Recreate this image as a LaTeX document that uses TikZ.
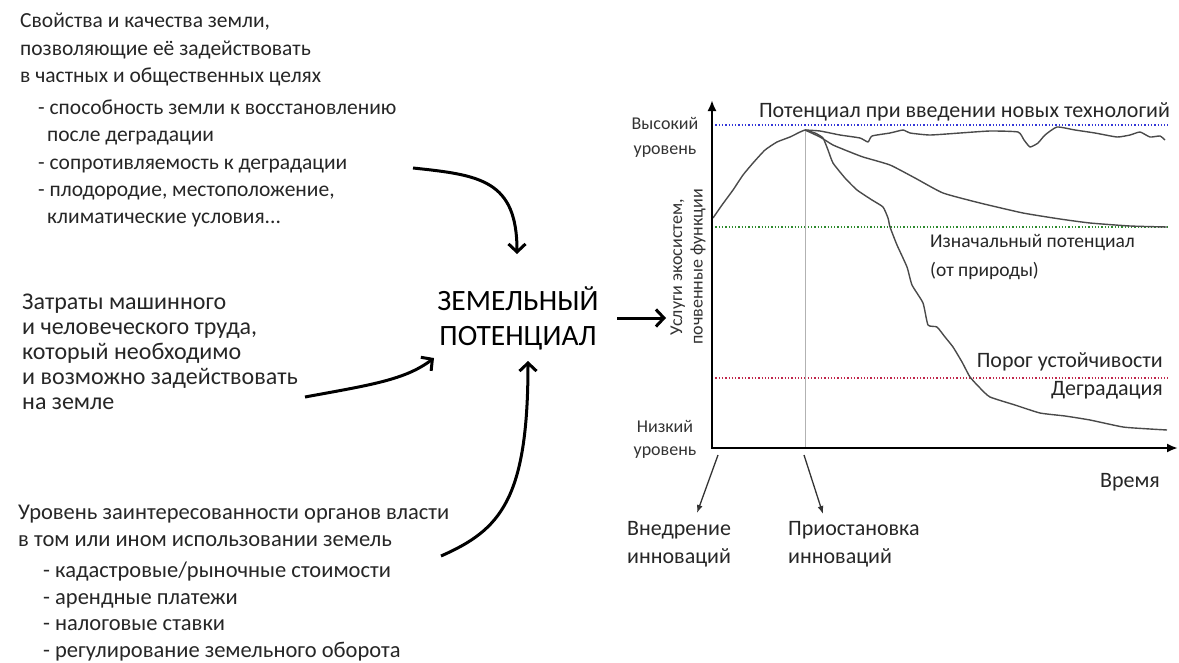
\documentclass[tikz,border=0pt]{standalone}
\usepackage{fontspec}
\setmainfont{Carlito}
\usepackage{xcolor}
\definecolor{potblue}{HTML}{3438D8}
\definecolor{potgreen}{HTML}{2E8A2E}
\definecolor{potred}{HTML}{C0284C}
\definecolor{curvegray}{HTML}{4A4A4A}
\usetikzlibrary{arrows.meta}
\usetikzlibrary{positioning}

\begin{document}
\begin{tikzpicture}[x=1pt, y=-1pt,
    txt/.style={anchor=north west, align=left, inner sep=0pt, text=black!85,
      font=\fontsize{21.5}{27.3}\selectfont},
    lbl/.style={inner sep=0pt, text=black!85, font=\fontsize{22}{28}\selectfont},
    small/.style={inner sep=0pt, align=center, text=black!80,
      font=\fontsize{18}{25}\selectfont},
    bigarrow/.style={line width=3pt, -{Straight Barb[length=8pt,width=17pt,line width=3pt]}},
    thinarrow/.style={line width=1.3pt, black!80, -{Latex[length=8pt,width=6pt]}},
    level/.style={line width=1.3pt, dotted},
    curve/.style={line width=1.4pt, curvegray, line join=round}]

\useasboundingbox (0,0) rectangle (1179,662);

% left column
\node[txt] (props) at (20,13) {Свойства и качества земли,\\
  позволяющие её задействовать\\
  в частных и общественных целях\\[5pt]
  \hspace*{18pt}- способность земли к восстановлению\\
  \hspace*{27pt}после деградации\\
  \hspace*{18pt}- сопротивляемость к деградации\\
  \hspace*{18pt}- плодородие, местоположение,\\
  \hspace*{27pt}климатические условия...};

\node[txt, font=\fontsize{24}{25}\selectfont] (labour) at (22,294) {Затраты машинного\\
  и человеческого труда,\\
  который необходимо\\
  и возможно задействовать\\
  на земле};

\node[txt, font=\fontsize{22.5}{26.5}\selectfont] (power) at (18,505)
  {Уровень заинтересованности органов власти\\
  в том или ином использовании земель\\[5pt]
  \hspace*{25pt}- кадастровые/рыночные стоимости\\
  \hspace*{25pt}- арендные платежи\\
  \hspace*{25pt}- налоговые ставки\\
  \hspace*{25pt}- регулирование земельного оборота};

% centre
\node[align=center, inner sep=0pt, font=\fontsize{29.5}{35}\selectfont] (land) at (518,318)
  {ЗЕМЕЛЬНЫЙ\\ПОТЕНЦИАЛ};

\coordinate (a1) at (413,168);
\coordinate (a2) at (305,397);
\coordinate (a3) at (441,556);
\coordinate (in1) at (517,254);
\coordinate (in2) at (434,358);
\coordinate (in3) at (528,361);
\coordinate (a4) at (617,318);
\coordinate (out) at (666,318);

\draw[bigarrow] (a1) .. controls (480,175) and (517,180) .. (in1);
\draw[bigarrow] (a2) .. controls (370,385) and (405,380) .. (in2);
\draw[bigarrow] (a3) .. controls (500,530) and (528,500) .. (in3);
\draw[bigarrow] (a4) -- (out);

% chart
\coordinate (O) at (712,448);
\coordinate (ytop) at (712,100);
\coordinate (xend) at (1178,448);
\coordinate (peak) at (805,130);

\draw[level, potblue] (712,125) -- (1168,125);
\draw[level, potgreen] (712,227) -- (1168,227);
\draw[level, potred] (712,378) -- (1168,378);
\draw[line width=1pt, black!30] (peak) -- (peak |- O);

\draw[curve] plot[smooth, tension=.3] coordinates {(713,218) (722,205) (733,190)
  (743,175) (753,163) (765,150) (777,142) (790,137) (800,132) (peak)};
\draw[curve] plot[smooth, tension=.3] coordinates {(peak) (820,131) (840,135)
  (860,138) (868,142) (872,136) (890,133) (903,130) (910,133) (930,135) (960,133)
  (990,131) (1018,132) (1024,140) (1030,147) (1038,143) (1045,135) (1057,127)
  (1075,130) (1095,133) (1117,137) (1130,135) (1140,132) (1150,137) (1160,136)
  (1165,140)};
\draw[curve] plot[smooth, tension=.3] coordinates {(peak) (820,137) (833,145)
  (850,152) (863,157) (890,165) (915,178) (943,193) (980,203) (1023,213)
  (1060,219) (1090,223) (1130,226) (1167,227)};
\draw[curve] plot[smooth, tension=.3] coordinates {(peak) (815,133) (823,138)
  (828,150) (833,163) (845,178) (857,190) (872,200) (883,207) (888,218) (890,227)
  (897,245) (907,267) (912,285) (923,303) (928,325) (937,327) (945,337) (953,347)
  (962,362) (970,377) (980,388) (990,397) (1015,405) (1040,413) (1065,416)
  (1090,420) (1123,427) (1150,429) (1167,430)};

\draw[line width=2.5pt, {Latex[length=11pt,width=9pt]}-{Latex[length=11pt,width=9pt]}]
  (ytop) -- (O) -- (xend);

\node[lbl, anchor=east] (newtech) at (1170,112) {Потенциал при введении новых технологий};
\node[lbl, anchor=west, align=left, font=\fontsize{19.5}{29}\selectfont] (natural)
  at (930,257) {Изначальный потенциал\\(от природы)};
\node[lbl, anchor=east] (threshold) at (1163,362) {Порог устойчивости};
\node[lbl, anchor=east] (degr) at (1163,390) {Деградация};
\node[lbl] (time) at (1130,482) {Время};

\node[small] (high) at (665,137) {Высокий\\уровень};
\node[small, font=\fontsize{18}{23}\selectfont] (low) at (665,439) {Низкий\\уровень};
\node[small, rotate=90, font=\fontsize{18}{20.5}\selectfont] (services) at (688,267)
  {Услуги экосистем,\\почвенные функции};

\node[lbl, anchor=north west, align=left] (start) at (627,521) {Внедрение\\инноваций};
\node[lbl, anchor=north west, align=left] (stop) at (788,521) {Приостановка\\инноваций};

\coordinate (s1) at (718,455);
\coordinate (s2) at (804,455);
\coordinate (t1) at (697,513);
\coordinate (t2) at (823,514);
\draw[thinarrow] (s1) -- (t1);
\draw[thinarrow] (s2) -- (t2);

\end{tikzpicture}
\end{document}
